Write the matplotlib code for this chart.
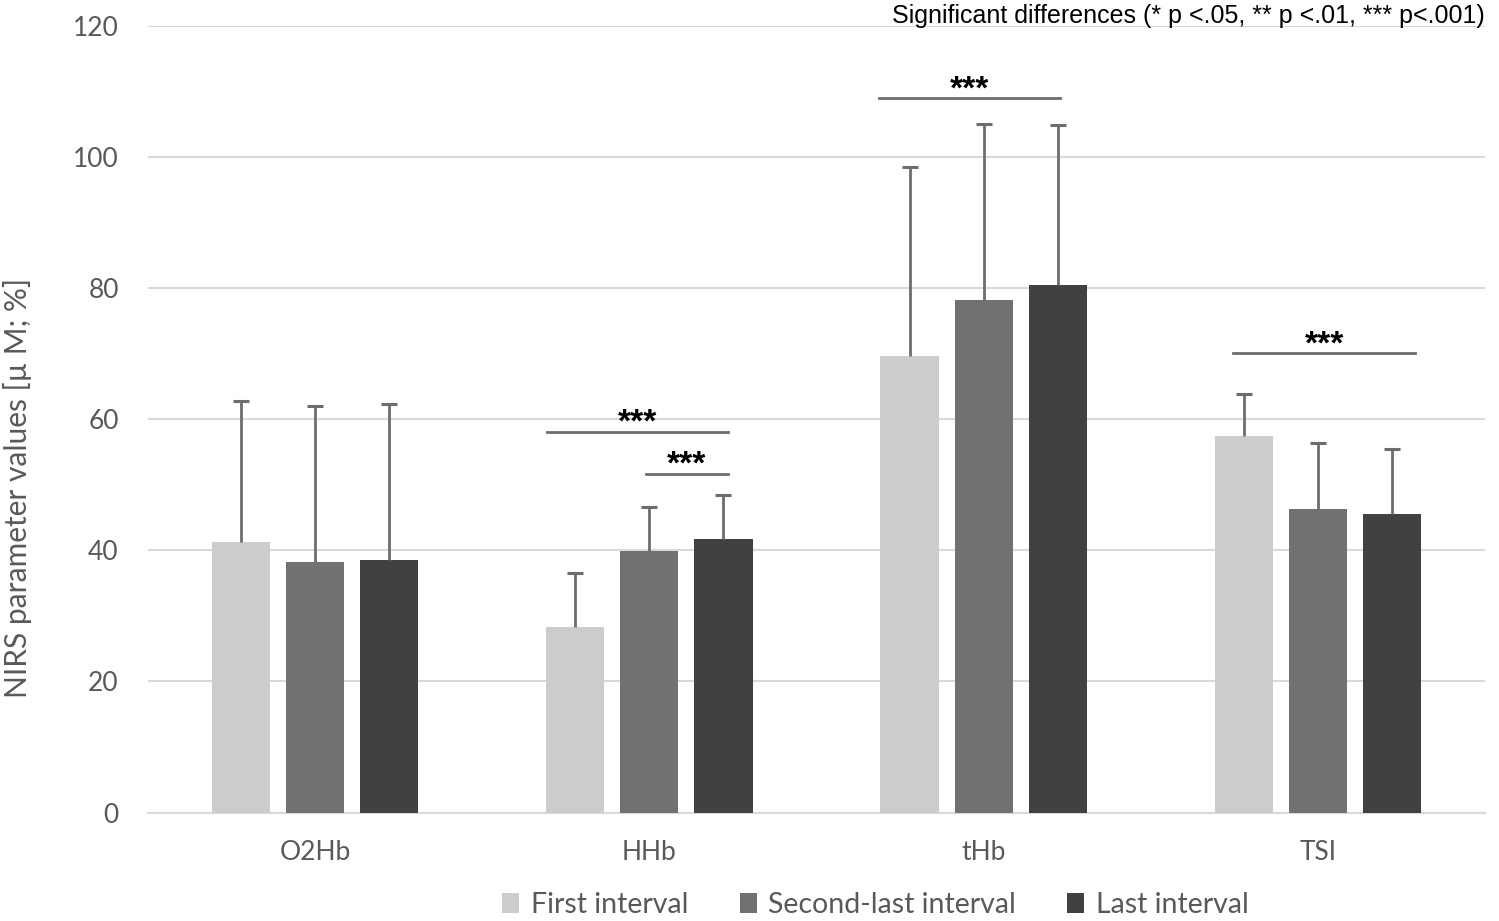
import numpy as np
import matplotlib
matplotlib.use("Agg")
import matplotlib.pyplot as plt

# data
categories = ["O2Hb", "HHb", "tHb", "TSI"]
series = ["First interval", "Second-last interval", "Last interval"]
first_mean = [41.2, 28.3, 69.6, 57.4]
second_mean = [38.2, 39.9, 78.2, 46.3]
last_mean = [38.5, 41.7, 80.4, 45.6]
first_sd = [21.6, 8.2, 28.9, 6.4]
second_sd = [23.8, 6.7, 26.8, 10.1]
last_sd = [23.85, 6.7, 24.4, 9.9]
colors = ["#cccccc", "#717171", "#414141"]

# significance brackets: (x start, x end, y level, label)
sig_lines = [
    (0.694, 1.235, 58.1, "***"),
    (0.990, 1.235, 51.7, "***"),
    (1.687, 2.229, 109.0, "***"),
    (2.746, 3.291, 70.1, "***"),
]

plt.rcParams["font.family"] = ["Lato", "DejaVu Sans"]

fig = plt.figure(figsize=(14.99, 9.21), dpi=100)
ax = fig.add_axes([0.0987, 0.1177, 0.892, 0.8543])

x = np.arange(len(categories))
width = 0.174
step = 0.2216
means = [first_mean, second_mean, last_mean]
sds = [first_sd, second_sd, last_sd]

for i in range(3):
    pos = x + (i - 1) * step
    m = np.array(means[i])
    top = m + np.array(sds[i])
    ax.bar(pos, m, width, color=colors[i], label=series[i], zorder=3)
    # only the upper half of the error bar, as in the original
    ax.vlines(pos, m, top, color="#6d6d6d", lw=2, zorder=4)
    ax.plot(pos, top, ls="none", marker="_", ms=11, mew=2.2,
            color="#6d6d6d", zorder=4)

for x0, x1, y, lab in sig_lines:
    ax.plot([x0, x1], [y, y], color="#6d6d6d", lw=2, zorder=4)
    ax.text((x0 + x1) / 2, y - 1.1, lab, ha="center", va="bottom",
            fontsize=24, fontweight="bold", family="Liberation Sans")

ax.set_xlim(-0.5, 3.5)
ax.set_ylim(0, 120)
ax.set_yticks(np.arange(0, 121, 20))
ax.set_xticks(x)
ax.set_xticklabels(categories)
ax.grid(axis="y", color="#d9d9d9", lw=1.5, zorder=0)
ax.tick_params(axis="both", length=0, labelsize=19, colors="#595959")
ax.tick_params(axis="y", pad=21)
ax.tick_params(axis="x", pad=20)
for s in ["top", "right", "left"]:
    ax.spines[s].set_visible(False)
ax.spines["bottom"].set_color("#d9d9d9")
ax.spines["bottom"].set_linewidth(1.5)

ax.set_ylabel("NIRS parameter values [µ M; %]", fontsize=21.5, color="#595959")
ax.yaxis.set_label_coords(-0.087, 0.412)

fig.legend(loc="center", bbox_to_anchor=(0.584, 0.017), ncol=3, frameon=False,
           fontsize=20.5, handlelength=0.6, handleheight=0.7, handletextpad=0.4,
           columnspacing=1.8, labelcolor="#595959")

fig.text(0.9907, 0.983, "Significant differences (* p <.05, ** p <.01, *** p<.001)",
         ha="right", va="center", fontsize=18, family="Liberation Sans")

fig.savefig("out.png", dpi=100)
